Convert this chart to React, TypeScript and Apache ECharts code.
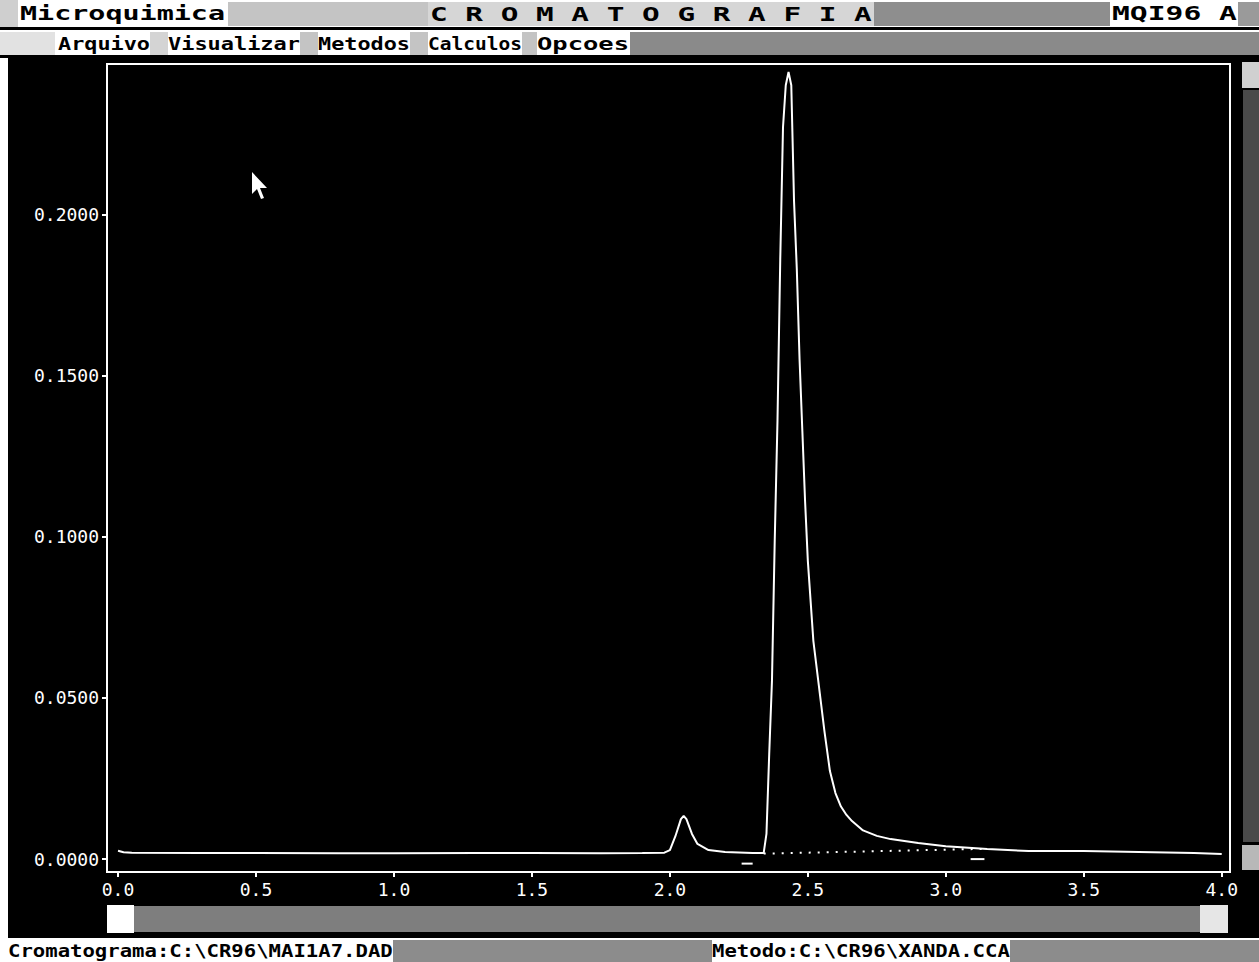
import React, { useEffect, useRef } from "react";
import * as echarts from "echarts";

// Retention time (min) and detector signal (AU)
const retentionTimes = [
  0.0, 0.02, 0.05, 0.3, 0.5, 0.8, 1.0, 1.3, 1.5, 1.75, 1.9, 1.98, 2.0, 2.02, 2.04, 2.05, 2.06, 2.08,
  2.1, 2.14, 2.2, 2.3, 2.34, 2.35, 2.36, 2.37, 2.38, 2.39, 2.4, 2.41, 2.42, 2.43, 2.44, 2.45, 2.46,
  2.47, 2.48, 2.49, 2.5, 2.52, 2.54, 2.56, 2.58, 2.6, 2.62, 2.64, 2.66, 2.7, 2.75, 2.8, 2.9, 3.0,
  3.15, 3.3, 3.5, 3.7, 3.9, 4.0,
];
const absorbance = [
  0.0026, 0.0021, 0.002, 0.0019, 0.0019, 0.0018, 0.0018, 0.0019, 0.0019, 0.0018, 0.0019, 0.002,
  0.0028, 0.0071, 0.0124, 0.0134, 0.0124, 0.0078, 0.0047, 0.0028, 0.0022, 0.0019, 0.0019, 0.0078,
  0.0326, 0.0553, 0.0988, 0.136, 0.186, 0.227, 0.24, 0.2441, 0.24, 0.204, 0.183, 0.155, 0.133,
  0.111, 0.0925, 0.0677, 0.0537, 0.0398, 0.0273, 0.0205, 0.0163, 0.0137, 0.0118, 0.0089, 0.0072,
  0.0062, 0.005, 0.004, 0.0031, 0.0025, 0.0025, 0.0022, 0.0019, 0.0016,
];
// Integration baseline (dotted)
const baselineTimes = [2.34, 3.15];
const baselineValues = [0.0017, 0.0032];
// Small event marks under the trace
const markATimes = [2.26, 2.3];
const markAValues = [-0.0014, -0.0014];
const markBTimes = [3.09, 3.14];
const markBValues = [0.0, 0.0];

const xTickValues = [0, 0.5, 1, 1.5, 2, 2.5, 3, 3.5, 4];
const yTickValues = [0, 0.05, 0.1, 0.15, 0.2];

const titleLeft = "Microquimica";
const titleCenter = "C R O M A T O G R A F I A";
const titleRight = "MQI96 A";
const menuItems = ["Arquivo", "Visualizar", "Metodos", "Calculos", "Opcoes"];
const statusFile = "Cromatograma:C:\\CR96\\MAI1A7.DAD";
const statusMethod = "Metodo:C:\\CR96\\XANDA.CCA";

const zip = (a: number[], b: number[]) => a.map((v, i) => [v, b[i]]);

function monoText(text: string, left: number, width: number, y: number, fontSize: number) {
  const natural = text.length * 0.602 * fontSize;
  return {
    type: "text",
    x: left,
    y,
    scaleX: width / natural,
    z: 20,
    style: {
      text,
      x: 0,
      y: 0,
      fill: "#000",
      font: `bold ${fontSize}px "DejaVu Sans Mono"`,
      verticalAlign: "middle",
      align: "left",
    },
  };
}

function rect(x: number, y: number, w: number, h: number, fill: string, z = 10) {
  return { type: "rect", z, shape: { x, y, width: w, height: h }, style: { fill } };
}

export default function App() {
  const ref = useRef<HTMLDivElement>(null);
  useEffect(() => {
    if (!ref.current) return;
    const chart = echarts.init(ref.current, null, { renderer: "svg" });
    const menuLefts = [58, 168, 318, 428, 537];
    const menuWidths = [92, 132, 92, 94, 92];
    const graphic: any[] = [
      // top bars
      rect(0, 0, 1259, 58, "#ffffff", 5),
      rect(0, 0, 18, 27, "#cfcfcf", 6),
      rect(228, 2, 200, 24, "#c4c4c4", 6),
      rect(428, 2, 446, 24, "#d6d6d6", 6),
      rect(874, 2, 236, 24, "#8e8e8e", 6),
      rect(1238, 2, 21, 24, "#9a9a9a", 6),
      rect(0, 27, 1259, 3, "#000000", 7),
      rect(0, 32, 55, 23, "#e2e2e2", 6),
      rect(150, 32, 18, 23, "#d4d4d4", 6),
      rect(300, 32, 18, 23, "#c4c4c4", 6),
      rect(410, 32, 18, 23, "#c4c4c4", 6),
      rect(522, 32, 15, 23, "#c4c4c4", 6),
      rect(630, 32, 629, 23, "#8a8a8a", 6),
      rect(0, 55, 1259, 3, "#000000", 7),
      // left white strip
      rect(0, 58, 8, 880, "#ffffff", 5),
      // status bar
      rect(0, 938, 1259, 24, "#ffffff", 5),
      rect(393, 940, 319, 22, "#8c8c8c", 6),
      rect(1010, 940, 249, 22, "#8c8c8c", 6),
      // right scrollbar
      rect(1242, 62, 17, 26, "#d0d0d0", 6),
      rect(1243, 90, 16, 752, "#4a4a4a", 6),
      rect(1242, 845, 17, 25, "#b8b8b8", 6),
      // bottom scrollbar
      rect(107, 905, 27, 28, "#ffffff", 6),
      rect(134, 906, 1066, 26, "#7e7e7e", 6),
      rect(1200, 905, 28, 28, "#e6e6e6", 6),
      // texts
      monoText(titleLeft, 20, 205, 14, 19),
      monoText(titleCenter, 430, 442, 14, 19),
      monoText(titleRight, 1112, 125, 14, 19),
      ...menuItems.map((m, i) => monoText(m, menuLefts[i], menuWidths[i], 44, 18)),
      monoText(statusFile, 8, 385, 951, 18),
      monoText(statusMethod, 712, 298, 951, 18),
      // mouse cursor
      {
        type: "polygon",
        z: 20,
        shape: {
          points: [
            [252, 172],
            [252, 194],
            [257, 189],
            [261, 199],
            [264, 198],
            [260, 188],
            [267, 188],
          ],
        },
        style: { fill: "#ffffff" },
      },
    ];

    const axisFont = { color: "#ffffff", fontFamily: "DejaVu Sans Mono", fontSize: 18 };
    chart.setOption({
      animation: false,
      backgroundColor: "#000000",
      grid: {
        left: 107,
        right: 29,
        top: 64,
        bottom: 90,
        show: true,
        borderColor: "#ffffff",
        borderWidth: 2,
        backgroundColor: "transparent",
      },
      xAxis: {
        type: "value",
        min: -0.04,
        max: 4.03,
        axisLine: { show: true, onZero: false, lineStyle: { color: "#ffffff", width: 2 } },
        axisTick: { show: true, customValues: xTickValues, length: 5, lineStyle: { color: "#ffffff", width: 2 } },
        axisLabel: {
          ...axisFont,
          customValues: xTickValues,
          margin: 8,
          formatter: (v: number) => v.toFixed(1),
        },
        splitLine: { show: false },
      },
      yAxis: {
        type: "value",
        min: -0.004,
        max: 0.2466,
        axisLine: { show: true, onZero: false, lineStyle: { color: "#ffffff", width: 2 } },
        axisTick: { show: true, customValues: yTickValues, length: 5, lineStyle: { color: "#ffffff", width: 2 } },
        axisLabel: {
          ...axisFont,
          customValues: yTickValues,
          margin: 8,
          formatter: (v: number) => v.toFixed(4),
        },
        splitLine: { show: false },
      },
      graphic,
      series: [
        {
          type: "line",
          name: "signal",
          data: zip(retentionTimes, absorbance),
          showSymbol: false,
          lineStyle: { color: "#ffffff", width: 2 },
          z: 5,
        },
        {
          type: "line",
          name: "baseline",
          data: zip(baselineTimes, baselineValues),
          showSymbol: false,
          lineStyle: { color: "#ffffff", width: 2, type: [2, 7] },
          z: 4,
        },
        {
          type: "line",
          name: "markA",
          data: zip(markATimes, markAValues),
          showSymbol: false,
          lineStyle: { color: "#ffffff", width: 2 },
        },
        {
          type: "line",
          name: "markB",
          data: zip(markBTimes, markBValues),
          showSymbol: false,
          lineStyle: { color: "#ffffff", width: 2 },
        },
      ],
    });
    return () => chart.dispose();
  }, []);
  return (
    <div
      ref={ref}
      style={{ position: "absolute", left: 0, top: 0, width: 1259, height: 962 }}
    />
  );
}
